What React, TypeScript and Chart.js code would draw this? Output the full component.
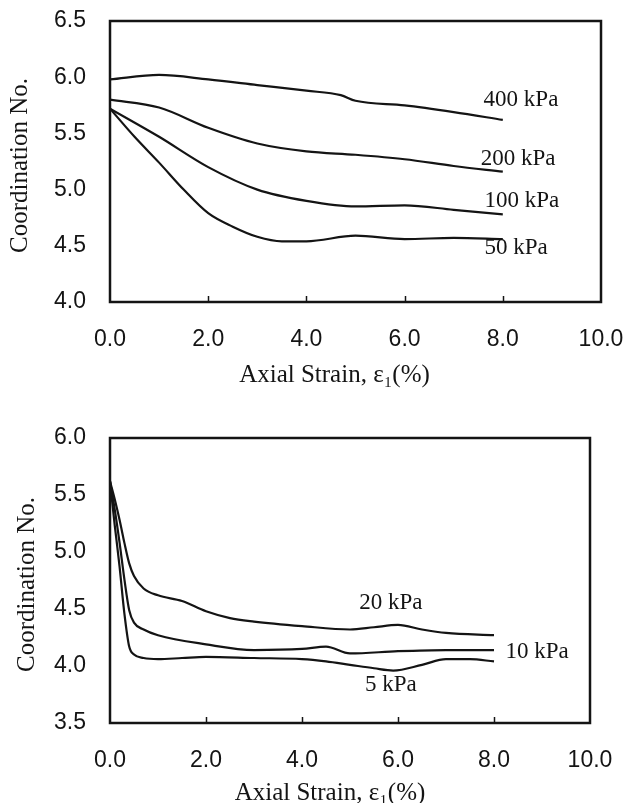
import React, { useEffect, useRef } from "react";
import { Chart, registerables } from "chart.js";
Chart.register(...registerables);

// ---- Top panel (high confining pressures) ----
const topXTicks = [0, 2, 4, 6, 8, 10];
const topYTicks = [4.0, 4.5, 5.0, 5.5, 6.0, 6.5];

const s400x = [0, 1, 2, 3, 4, 4.7, 5, 6, 7, 8];
const s400y = [5.98, 6.02, 5.98, 5.93, 5.88, 5.84, 5.79, 5.75, 5.69, 5.62];

const s200x = [0, 1, 2, 3, 4, 5, 6, 7, 8];
const s200y = [5.8, 5.73, 5.55, 5.41, 5.34, 5.31, 5.27, 5.21, 5.16];

const s100x = [0, 1, 2, 3, 4, 5, 6, 7, 8];
const s100y = [5.72, 5.47, 5.2, 5.0, 4.9, 4.85, 4.86, 4.82, 4.78];

const s50x = [0, 0.5, 1, 1.5, 2, 2.5, 3, 3.5, 4, 5, 6, 7, 8];
const s50y = [5.72, 5.47, 5.24, 5.0, 4.79, 4.67, 4.58, 4.54, 4.54, 4.59, 4.56, 4.57, 4.56];

const topLabels = ["400 kPa", "200 kPa", "100 kPa", "50 kPa"];
const topLabelX = [8.37, 8.31, 8.39, 8.27];
const topLabelY = [5.8, 5.27, 4.9, 4.48];

// ---- Bottom panel (low confining pressures) ----
const botXTicks = [0, 2, 4, 6, 8, 10];
const botYTicks = [3.5, 4.0, 4.5, 5.0, 5.5, 6.0];

const s20x = [0, 0.1, 0.2, 0.3, 0.4, 0.5, 0.7, 1, 1.5, 2, 2.5, 3, 4, 5, 5.5, 6, 6.5, 7, 8];
const s20y = [5.62, 5.46, 5.28, 5.08, 4.9, 4.79, 4.68, 4.62, 4.57, 4.48, 4.42, 4.39, 4.35, 4.32, 4.34, 4.36, 4.32, 4.29, 4.27];

const s10x = [0, 0.1, 0.2, 0.3, 0.4, 0.5, 0.7, 1, 2, 3, 4, 4.5, 5, 6, 7, 8];
const s10y = [5.62, 5.37, 5.08, 4.76, 4.49, 4.38, 4.32, 4.27, 4.19, 4.14, 4.15, 4.17, 4.11, 4.13, 4.14, 4.14];

const s5x = [0, 0.1, 0.2, 0.3, 0.4, 0.5, 0.7, 1, 1.5, 2, 3, 4, 4.5, 5, 5.5, 5.9, 6.5, 7, 7.5, 8];
const s5y = [5.62, 5.23, 4.87, 4.46, 4.17, 4.1, 4.07, 4.06, 4.07, 4.08, 4.07, 4.06, 4.04, 4.01, 3.98, 3.96, 4.01, 4.06, 4.06, 4.04];

const botLabels = ["20 kPa", "10 kPa", "5 kPa"];
const botLabelX = [5.85, 8.9, 5.85];
const botLabelY = [4.55, 4.12, 3.83];

const xTitle = "Axial Strain, \u03B5\u2081(%)";
const yTitle = "Coordination No.";

const INK = "#141414";
const tickFont = { family: '"Liberation Sans", Arial, sans-serif', size: 23 };
const serif = '"Liberation Serif", "Times New Roman", serif';

function pts(xs: number[], ys: number[]) {
  return xs.map((x, i) => ({ x, y: ys[i] }));
}

function makeDataset(xs: number[], ys: number[]) {
  return {
    data: pts(xs, ys),
    borderColor: INK,
    borderWidth: 2.2,
    pointRadius: 0,
    fill: false,
    tension: 0.4,
    cubicInterpolationMode: "monotone" as const,
  };
}

function decoPlugin(
  labels: string[],
  lx: number[],
  ly: number[],
  yTitleX: number,
  yTitleDy: number,
  xTitleDx: number,
  xTitleDy: number
) {
  return {
    id: "deco",
    afterDraw(chart: any) {
      const { ctx, chartArea: a, scales } = chart;
      const xs = scales.x;
      const ys = scales.y;
      ctx.save();
      ctx.strokeStyle = INK;
      ctx.lineWidth = 2.5;
      ctx.strokeRect(a.left, a.top, a.right - a.left, a.bottom - a.top);
      ctx.lineWidth = 1.5;
      xs.ticks.forEach((t: any) => {
        if (t.value > xs.min && t.value < xs.max) {
          const px = Math.round(xs.getPixelForValue(t.value)) + 0.5;
          ctx.beginPath();
          ctx.moveTo(px, a.bottom);
          ctx.lineTo(px, a.bottom - 6);
          ctx.stroke();
        }
      });
      ctx.fillStyle = INK;
      ctx.textAlign = "center";
      ctx.textBaseline = "middle";
      ctx.font = `23px ${serif}`;
      labels.forEach((txt, i) => {
        ctx.fillText(txt, xs.getPixelForValue(lx[i]), ys.getPixelForValue(ly[i]));
      });
      ctx.font = `25px ${serif}`;
      ctx.fillText(xTitle, (a.left + a.right) / 2 + xTitleDx, a.bottom + xTitleDy);
      ctx.save();
      ctx.translate(yTitleX, (a.top + a.bottom) / 2 + yTitleDy);
      ctx.rotate(-Math.PI / 2);
      ctx.fillText(yTitle, 0, 0);
      ctx.restore();
      ctx.restore();
    },
  };
}

function makeConfig(
  datasets: any[],
  xTicks: number[],
  yTicks: number[],
  padding: { left: number; right: number; top: number; bottom: number },
  yWidth: number,
  xHeight: number,
  plugin: any
) {
  return {
    type: "line" as const,
    data: { datasets },
    plugins: [plugin],
    options: {
      animation: false as const,
      responsive: false,
      events: [],
      layout: { padding },
      plugins: { legend: { display: false }, tooltip: { enabled: false } },
      scales: {
        x: {
          type: "linear" as const,
          min: xTicks[0],
          max: xTicks[xTicks.length - 1],
          afterFit: (s: any) => {
            s.height = xHeight;
            s.paddingLeft = 0;
            s.paddingRight = 0;
            s.paddingTop = 0;
            s.paddingBottom = 0;
          },
          afterBuildTicks: (s: any) => {
            s.ticks = xTicks.map((v) => ({ value: v }));
          },
          grid: { display: false, drawTicks: false },
          border: { display: false },
          ticks: {
            padding: 24,
            color: INK,
            font: tickFont,
            maxRotation: 0,
            callback: (v: any) => Number(v).toFixed(1),
          },
        },
        y: {
          type: "linear" as const,
          min: yTicks[0],
          max: yTicks[yTicks.length - 1],
          afterFit: (s: any) => {
            s.width = yWidth;
            s.paddingLeft = 0;
            s.paddingRight = 0;
            s.paddingTop = 0;
            s.paddingBottom = 0;
          },
          afterBuildTicks: (s: any) => {
            s.ticks = yTicks.map((v) => ({ value: v }));
          },
          grid: { display: false, drawTicks: false },
          border: { display: false },
          ticks: {
            padding: 24,
            color: INK,
            font: tickFont,
            callback: (v: any) => Number(v).toFixed(1),
          },
        },
      },
    },
  };
}

export default function App() {
  const topRef = useRef<HTMLCanvasElement | null>(null);
  const botRef = useRef<HTMLCanvasElement | null>(null);

  useEffect(() => {
    const top = new Chart(
      topRef.current as HTMLCanvasElement,
      makeConfig(
        [
          makeDataset(s400x, s400y),
          makeDataset(s200x, s200y),
          makeDataset(s100x, s100y),
          makeDataset(s50x, s50y),
        ],
        topXTicks,
        topYTicks,
        { left: 0, right: 25, top: 21, bottom: 0 },
        110,
        98,
        decoPlugin(topLabels, topLabelX, topLabelY, 20, 4, -21, 73)
      ) as any
    );
    const bot = new Chart(
      botRef.current as HTMLCanvasElement,
      makeConfig(
        [makeDataset(s20x, s20y), makeDataset(s10x, s10y), makeDataset(s5x, s5y)],
        botXTicks,
        botYTicks,
        { left: 0, right: 36, top: 38, bottom: 0 },
        110,
        80,
        decoPlugin(botLabels, botLabelX, botLabelY, 27, 4, -20, 70)
      ) as any
    );
    return () => {
      top.destroy();
      bot.destroy();
    };
  }, []);

  return (
    <div
      style={{
        position: "absolute",
        left: 0,
        top: 0,
        width: 626,
        height: 803,
        background: "#fff",
        overflow: "hidden",
      }}
    >
      <canvas ref={topRef} width={626} height={400} style={{ display: "block", width: 626, height: 400 }} />
      <canvas ref={botRef} width={626} height={403} style={{ display: "block", width: 626, height: 403 }} />
    </div>
  );
}
